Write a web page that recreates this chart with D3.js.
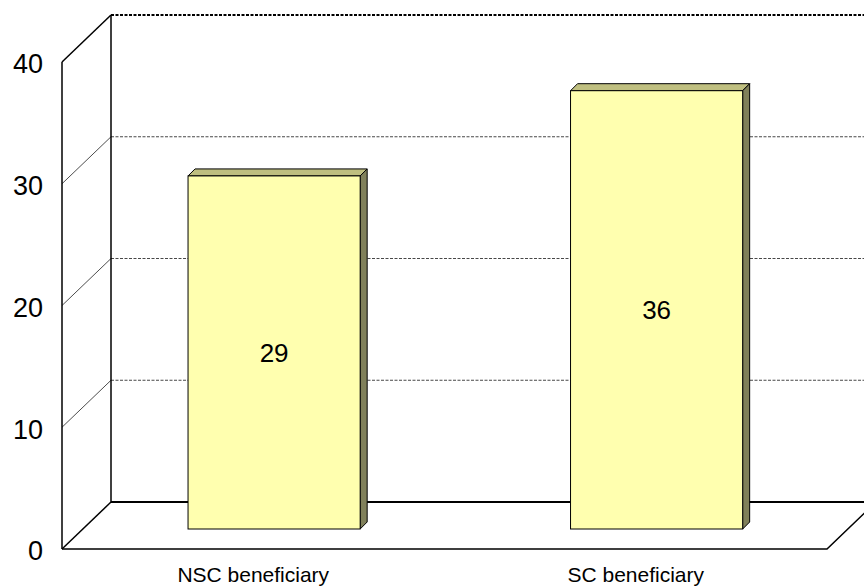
<!doctype html>

<html lang="en">
<head>
  <meta charset="utf-8">
  <title>NSC vs SC beneficiary</title>

<style>
body {
  margin: 0;
  background: white;
}
svg {
  display: block;
  font-family: Arial, "Liberation Sans", sans-serif;
}
</style>

  <script src="https://d3js.org/d3.v7.min.js" charset="utf-8"></script>
</head>
<body>

<div class="chart"></div>

<script>

  // data
  let categories = ['NSC beneficiary', 'SC beneficiary'];
  let values = [29, 36];
  let tick_values = [0, 10, 20, 30, 40];

  let w = 864, h = 586;

  let svg = d3.select('.chart').append('svg')
    .attr('width', w)
    .attr('height', h);

  // front plane of the 3d box
  // (note: 'top' is a window global, so use other names)
  let plot_left = 62, plot_right = 827, plot_bottom = 549, plot_top = 62;
  // depth offset from front plane to back wall
  let depth_x = 49, depth_y = -47;

  let y = d3.scaleLinear()
    .domain([0, 40])
    .range([plot_bottom, plot_top]);

  let x = d3.scaleBand()
    .domain(categories)
    .range([plot_left, plot_right])
    .paddingInner(0.55)
    .paddingOuter(0.275);

  // shift a point to depth d (0 = front, 1 = back wall)
  function sx(d) { return depth_x * d; }
  function sy(d) { return depth_y * d; }

  let walls = svg.append('g');

  // gridlines on back wall, dashed
  walls.selectAll('line.grid')
    .data(tick_values.filter(t => t > 0))
    .enter()
    .append('line')
    .attr('x1', plot_left + depth_x)
    .attr('x2', plot_right + depth_x + 10)
    .attr('y1', d => y(d) + depth_y)
    .attr('y2', d => y(d) + depth_y)
    .attr('stroke', d => d === 40 ? '#000' : '#333')
    .attr('stroke-width', d => d === 40 ? 2 : 0.9)
    .attr('stroke-dasharray', '3,1.5');

  // gridlines on side wall (diagonals)
  walls.selectAll('line.side')
    .data(tick_values)
    .enter()
    .append('line')
    .attr('x1', plot_left)
    .attr('x2', plot_left + depth_x)
    .attr('y1', d => y(d))
    .attr('y2', d => y(d) + depth_y)
    .attr('stroke', '#000')
    .attr('stroke-width', d => (d === 0 || d === 40) ? 1.5 : 0.7);

  // back wall left edge
  walls.append('line')
    .attr('x1', plot_left + depth_x).attr('x2', plot_left + depth_x)
    .attr('y1', y(0) + depth_y).attr('y2', y(40) + depth_y)
    .attr('stroke', '#000').attr('stroke-width', 1.5);

  // floor back edge
  walls.append('line')
    .attr('x1', plot_left + depth_x).attr('x2', plot_right + depth_x + 10)
    .attr('y1', y(0) + depth_y).attr('y2', y(0) + depth_y)
    .attr('stroke', '#000').attr('stroke-width', 2);

  // floor front edge + right diagonal
  walls.append('path')
    .attr('d', 'M' + plot_left + ',' + y(0) + 'L' + plot_right + ',' + y(0) +
      'L' + (plot_right + depth_x) + ',' + (y(0) + depth_y))
    .attr('fill', 'none')
    .attr('stroke', '#000').attr('stroke-width', 1.5);

  // front vertical axis
  walls.append('line')
    .attr('x1', plot_left).attr('x2', plot_left)
    .attr('y1', y(0)).attr('y2', y(40))
    .attr('stroke', '#000').attr('stroke-width', 1.5);

  // bars, sitting midway in the depth
  let d_front = 20 / 47;
  let bar_dx = 7, bar_dy = -7;

  let bars = svg.selectAll('g.bar')
    .data(categories.map((c, i) => ({ cat: c, val: values[i] })))
    .enter()
    .append('g');

  function bar_box(d) {
    let x0 = x(d.cat) + sx(d_front);
    let x1 = x0 + x.bandwidth();
    let yt = y(d.val) + sy(d_front);
    let yb = y(0) + sy(d_front);
    return { x0: x0, x1: x1, yt: yt, yb: yb };
  }

  // top face
  bars.append('path')
    .attr('d', function (d) {
      let b = bar_box(d);
      return 'M' + b.x0 + ',' + b.yt + 'L' + (b.x0 + bar_dx) + ',' + (b.yt + bar_dy) +
        'L' + (b.x1 + bar_dx) + ',' + (b.yt + bar_dy) + 'L' + b.x1 + ',' + b.yt + 'Z';
    })
    .attr('fill', '#BFBF80')
    .attr('stroke', '#000')
    .attr('stroke-width', 1);

  // side face
  bars.append('path')
    .attr('d', function (d) {
      let b = bar_box(d);
      return 'M' + b.x1 + ',' + b.yt + 'L' + (b.x1 + bar_dx) + ',' + (b.yt + bar_dy) +
        'L' + (b.x1 + bar_dx) + ',' + (b.yb + bar_dy) + 'L' + b.x1 + ',' + b.yb + 'Z';
    })
    .attr('fill', '#80805A')
    .attr('stroke', '#000')
    .attr('stroke-width', 1);

  // front face
  bars.append('rect')
    .attr('x', d => bar_box(d).x0)
    .attr('y', d => bar_box(d).yt)
    .attr('width', x.bandwidth())
    .attr('height', d => bar_box(d).yb - bar_box(d).yt)
    .attr('fill', '#FFFFAF')
    .attr('stroke', '#000')
    .attr('stroke-width', 1);

  // value labels in middle of bar
  bars.append('text')
    .attr('x', d => (bar_box(d).x0 + bar_box(d).x1) / 2)
    .attr('y', d => (bar_box(d).yt + bar_box(d).yb) / 2)
    .attr('dy', '0.35em')
    .attr('text-anchor', 'middle')
    .attr('font-size', 26)
    .attr('fill', '#000')
    .text(d => d.val);

  // y tick labels
  svg.selectAll('text.tick')
    .data(tick_values)
    .enter()
    .append('text')
    .attr('x', 43)
    .attr('y', d => y(d) + 2)
    .attr('dy', '0.35em')
    .attr('text-anchor', 'end')
    .attr('font-size', 27)
    .attr('fill', '#000')
    .text(d => d);

  // category labels
  svg.selectAll('text.cat')
    .data(categories)
    .enter()
    .append('text')
    .attr('x', d => x(d) + x.bandwidth() / 2)
    .attr('y', 582)
    .attr('text-anchor', 'middle')
    .attr('font-size', 21)
    .attr('fill', '#000')
    .text(d => d);

</script>

</body>
</html>
